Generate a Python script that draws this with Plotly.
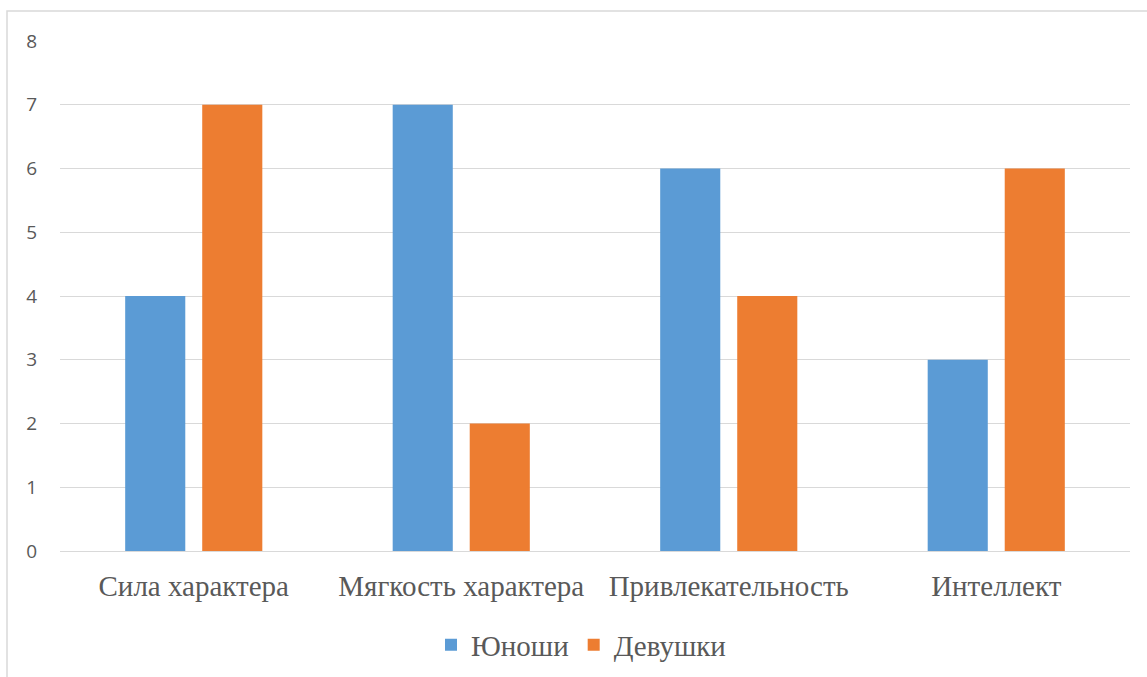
import plotly.graph_objects as go

categories = ["Сила характера", "Мягкость характера", "Привлекательность", "Интеллект"]
boys = [4, 7, 6, 3]
girls = [7, 2, 4, 6]
y_ticks = [0, 1, 2, 3, 4, 5, 6, 7, 8]

fig = go.Figure()
fig.add_trace(go.Bar(x=categories, y=boys, name="Юноши", marker=dict(color="#5B9BD5", line=dict(width=0))))
fig.add_trace(go.Bar(x=categories, y=girls, name="Девушки", marker=dict(color="#ED7D31", line=dict(width=0))))

W, H = 1147, 677
L, R, T, B = 60, 17, 41, 126
pw = W - L - R
ph = H - T - B

fig.update_layout(
    width=W, height=H,
    margin=dict(l=L, r=R, t=T, b=B, autoexpand=False),
    paper_bgcolor="white", plot_bgcolor="white",
    barmode="group", bargap=0.424, bargroupgap=0.22,
    showlegend=True,
    legend=dict(orientation="h", x=0.5 - 14 / pw, xanchor="center", yref="container", y=1 - 645 / H, yanchor="middle",
                font=dict(family="Liberation Serif", size=29, color="#595959"),
                itemwidth=30, tracegroupgap=0),
    xaxis=dict(showgrid=False, showline=False, zeroline=False, ticks="",
               tickfont=dict(family="Liberation Serif", size=29, color="#595959"),
               ticklabelstandoff=15),
    yaxis=dict(range=[0, 8], tickvals=y_ticks, showgrid=True, gridcolor="#d9d9d9", gridwidth=1,
               zeroline=True, zerolinecolor="#d9d9d9", zerolinewidth=1, showline=False, ticks="",
               tickfont=dict(family="Open Sans", size=19, color="#595959"),
               ticklabelstandoff=22),
    shapes=[dict(type="rect", xref="paper", yref="paper",
                 x0=(7 - L) / pw, x1=1.2, y0=-0.6, y1=1 + (T - 11) / ph,
                 line=dict(color="#d9d9d9", width=1.5), fillcolor="rgba(0,0,0,0)", layer="below")],
)

fig.write_html("out.html")
